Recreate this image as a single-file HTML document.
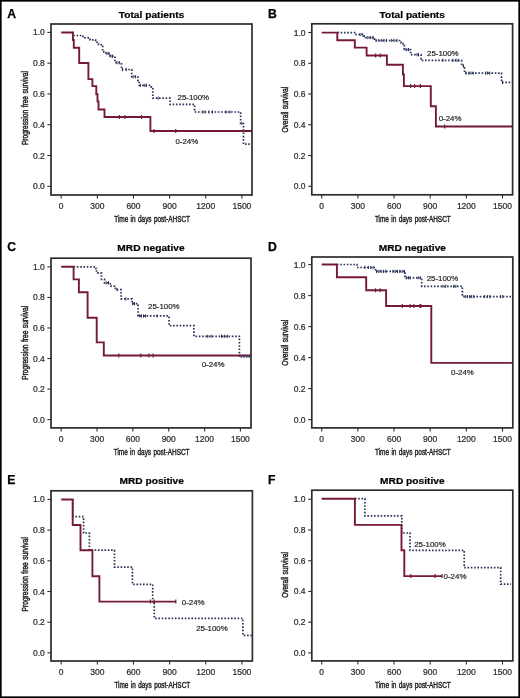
<!DOCTYPE html>
<html><head><meta charset="utf-8"><style>
html,body{margin:0;padding:0;background:#fff;}
body{width:520px;height:698px;overflow:hidden;font-family:"Liberation Sans",sans-serif;}
svg{display:block;will-change:transform;}
svg text{font-family:"Liberation Sans",sans-serif;}
</style></head><body>
<svg width="520" height="698" viewBox="0 0 520 698">
<rect x="0" y="0" width="520" height="698" fill="#fff"/>
<rect x="0.8" y="0.8" width="518.4" height="696.4" fill="none" stroke="#000" stroke-width="1.7"/>
<g><text x="7.3" y="17.5" font-family="Liberation Sans" font-weight="bold" font-size="12.2" fill="#000" stroke="#000" stroke-width="0.25">A</text><text transform="translate(151.50,17.7) scale(1.09,1)" text-anchor="middle" font-family="Liberation Sans" font-weight="bold" font-size="9.35" fill="#000" stroke="#000" stroke-width="0.2">Total patients</text><line x1="47.4" y1="186.30" x2="51" y2="186.30" stroke="#2c2c2c" stroke-width="1.1"/><text x="44.8" y="189.30" text-anchor="end" font-family="Liberation Sans" font-size="8.5" fill="#2a2a2a" stroke="#2a2a2a" stroke-width="0.22">0.0</text><line x1="47.4" y1="155.52" x2="51" y2="155.52" stroke="#2c2c2c" stroke-width="1.1"/><text x="44.8" y="158.52" text-anchor="end" font-family="Liberation Sans" font-size="8.5" fill="#2a2a2a" stroke="#2a2a2a" stroke-width="0.22">0.2</text><line x1="47.4" y1="124.74" x2="51" y2="124.74" stroke="#2c2c2c" stroke-width="1.1"/><text x="44.8" y="127.74" text-anchor="end" font-family="Liberation Sans" font-size="8.5" fill="#2a2a2a" stroke="#2a2a2a" stroke-width="0.22">0.4</text><line x1="47.4" y1="93.96" x2="51" y2="93.96" stroke="#2c2c2c" stroke-width="1.1"/><text x="44.8" y="96.96" text-anchor="end" font-family="Liberation Sans" font-size="8.5" fill="#2a2a2a" stroke="#2a2a2a" stroke-width="0.22">0.6</text><line x1="47.4" y1="63.18" x2="51" y2="63.18" stroke="#2c2c2c" stroke-width="1.1"/><text x="44.8" y="66.18" text-anchor="end" font-family="Liberation Sans" font-size="8.5" fill="#2a2a2a" stroke="#2a2a2a" stroke-width="0.22">0.8</text><line x1="47.4" y1="32.40" x2="51" y2="32.40" stroke="#2c2c2c" stroke-width="1.1"/><text x="44.8" y="35.40" text-anchor="end" font-family="Liberation Sans" font-size="8.5" fill="#2a2a2a" stroke="#2a2a2a" stroke-width="0.22">1.0</text><line x1="61.20" y1="195" x2="61.20" y2="198.6" stroke="#2c2c2c" stroke-width="1.1"/><text x="61.20" y="208.70" text-anchor="middle" font-family="Liberation Sans" font-size="8.5" fill="#2a2a2a" stroke="#2a2a2a" stroke-width="0.22">0</text><line x1="97.34" y1="195" x2="97.34" y2="198.6" stroke="#2c2c2c" stroke-width="1.1"/><text x="97.34" y="208.70" text-anchor="middle" font-family="Liberation Sans" font-size="8.5" fill="#2a2a2a" stroke="#2a2a2a" stroke-width="0.22">300</text><line x1="133.48" y1="195" x2="133.48" y2="198.6" stroke="#2c2c2c" stroke-width="1.1"/><text x="133.48" y="208.70" text-anchor="middle" font-family="Liberation Sans" font-size="8.5" fill="#2a2a2a" stroke="#2a2a2a" stroke-width="0.22">600</text><line x1="169.62" y1="195" x2="169.62" y2="198.6" stroke="#2c2c2c" stroke-width="1.1"/><text x="169.62" y="208.70" text-anchor="middle" font-family="Liberation Sans" font-size="8.5" fill="#2a2a2a" stroke="#2a2a2a" stroke-width="0.22">900</text><line x1="205.76" y1="195" x2="205.76" y2="198.6" stroke="#2c2c2c" stroke-width="1.1"/><text x="205.76" y="208.70" text-anchor="middle" font-family="Liberation Sans" font-size="8.5" fill="#2a2a2a" stroke="#2a2a2a" stroke-width="0.22">1200</text><line x1="241.90" y1="195" x2="241.90" y2="198.6" stroke="#2c2c2c" stroke-width="1.1"/><text x="241.90" y="208.70" text-anchor="middle" font-family="Liberation Sans" font-size="8.5" fill="#2a2a2a" stroke="#2a2a2a" stroke-width="0.22">1500</text><text transform="translate(152.10,222.40) scale(0.67,1)" text-anchor="middle" font-family="Liberation Sans" font-size="9.6" fill="#2a2a2a" stroke="#2a2a2a" stroke-width="0.5" word-spacing="0.9">Time in days post-AHSCT</text><text transform="translate(27.60,108.10) rotate(-90) scale(0.69,1)" text-anchor="middle" font-family="Liberation Sans" font-size="9.6" fill="#2a2a2a" stroke="#2a2a2a" stroke-width="0.5" word-spacing="0.9">Progression free survival</text><path d="M72.9,32.5H73V35.5H83V37.8H90V39.9H95.5V41.2H97V43H98.5V44.6H102.7V51.9H106.2V53.5H110V56.2H115V62.7H121.5V69.5H131.7V76.7H137.8V80.3H139.2V85.4H151V86.8H152.8V98.2H170V104.4H194.6V112H240.6V123.5H243.5V144.2H251V144.2" fill="none" stroke="#283258" stroke-width="1.7" stroke-dasharray="1.6 1.7"/><path d="M61.2,32.5H72.9V40H73.8V47.8H79.2V63H88.4V79.1H92.4V86.1H96.3V94.2H97.5V101.4H98.5V109.5H104.5V117H150.4V131H252V131" fill="none" stroke="#751a36" stroke-width="1.9"/><line x1="119.4" y1="115" x2="119.4" y2="119" stroke="#751a36" stroke-width="1.2"/><line x1="124.9" y1="115" x2="124.9" y2="119" stroke="#751a36" stroke-width="1.2"/><line x1="141.5" y1="115" x2="141.5" y2="119" stroke="#751a36" stroke-width="1.2"/><line x1="154" y1="129" x2="154" y2="133" stroke="#751a36" stroke-width="1.2"/><line x1="175.7" y1="129" x2="175.7" y2="133" stroke="#751a36" stroke-width="1.2"/><line x1="107" y1="51.9" x2="107" y2="55.1" stroke="#283258" stroke-width="1"/><line x1="109" y1="51.9" x2="109" y2="55.1" stroke="#283258" stroke-width="1"/><line x1="111" y1="54.6" x2="111" y2="57.800000000000004" stroke="#283258" stroke-width="1"/><line x1="112.5" y1="54.6" x2="112.5" y2="57.800000000000004" stroke="#283258" stroke-width="1"/><line x1="117" y1="61.1" x2="117" y2="64.3" stroke="#283258" stroke-width="1"/><line x1="119.2" y1="61.1" x2="119.2" y2="64.3" stroke="#283258" stroke-width="1"/><line x1="122.5" y1="67.9" x2="122.5" y2="71.1" stroke="#283258" stroke-width="1"/><line x1="126.2" y1="67.9" x2="126.2" y2="71.1" stroke="#283258" stroke-width="1"/><line x1="133.2" y1="75.10000000000001" x2="133.2" y2="78.3" stroke="#283258" stroke-width="1"/><line x1="135.6" y1="75.10000000000001" x2="135.6" y2="78.3" stroke="#283258" stroke-width="1"/><line x1="140.4" y1="83.80000000000001" x2="140.4" y2="87.0" stroke="#283258" stroke-width="1"/><line x1="144.2" y1="83.80000000000001" x2="144.2" y2="87.0" stroke="#283258" stroke-width="1"/><line x1="146.2" y1="83.80000000000001" x2="146.2" y2="87.0" stroke="#283258" stroke-width="1"/><line x1="158" y1="96.60000000000001" x2="158" y2="99.8" stroke="#283258" stroke-width="1"/><line x1="203" y1="110.4" x2="203" y2="113.6" stroke="#283258" stroke-width="1"/><line x1="205" y1="110.4" x2="205" y2="113.6" stroke="#283258" stroke-width="1"/><line x1="208.8" y1="110.4" x2="208.8" y2="113.6" stroke="#283258" stroke-width="1"/><line x1="212.5" y1="110.4" x2="212.5" y2="113.6" stroke="#283258" stroke-width="1"/><line x1="226.2" y1="110.4" x2="226.2" y2="113.6" stroke="#283258" stroke-width="1"/><line x1="230" y1="110.4" x2="230" y2="113.6" stroke="#283258" stroke-width="1"/><line x1="241.9" y1="121.9" x2="241.9" y2="125.1" stroke="#283258" stroke-width="1"/><text x="177.5" y="100" font-family="Liberation Sans" font-size="7.9" fill="#2a2a2a" stroke="#2a2a2a" stroke-width="0.22">25-100%</text><text x="175.4" y="143.8" font-family="Liberation Sans" font-size="7.9" fill="#2a2a2a" stroke="#2a2a2a" stroke-width="0.22">0-24%</text><rect x="51" y="24" width="201.00" height="171.00" fill="none" stroke="#2c2c2c" stroke-width="1.7"/></g>
<g><text x="268.0" y="17.5" font-family="Liberation Sans" font-weight="bold" font-size="12.2" fill="#000" stroke="#000" stroke-width="0.25">B</text><text transform="translate(412.20,17.6) scale(1.09,1)" text-anchor="middle" font-family="Liberation Sans" font-weight="bold" font-size="9.35" fill="#000" stroke="#000" stroke-width="0.2">Total patients</text><line x1="308.2" y1="186.30" x2="311.8" y2="186.30" stroke="#2c2c2c" stroke-width="1.1"/><text x="305.6" y="189.30" text-anchor="end" font-family="Liberation Sans" font-size="8.5" fill="#2a2a2a" stroke="#2a2a2a" stroke-width="0.22">0.0</text><line x1="308.2" y1="155.54" x2="311.8" y2="155.54" stroke="#2c2c2c" stroke-width="1.1"/><text x="305.6" y="158.54" text-anchor="end" font-family="Liberation Sans" font-size="8.5" fill="#2a2a2a" stroke="#2a2a2a" stroke-width="0.22">0.2</text><line x1="308.2" y1="124.78" x2="311.8" y2="124.78" stroke="#2c2c2c" stroke-width="1.1"/><text x="305.6" y="127.78" text-anchor="end" font-family="Liberation Sans" font-size="8.5" fill="#2a2a2a" stroke="#2a2a2a" stroke-width="0.22">0.4</text><line x1="308.2" y1="94.02" x2="311.8" y2="94.02" stroke="#2c2c2c" stroke-width="1.1"/><text x="305.6" y="97.02" text-anchor="end" font-family="Liberation Sans" font-size="8.5" fill="#2a2a2a" stroke="#2a2a2a" stroke-width="0.22">0.6</text><line x1="308.2" y1="63.26" x2="311.8" y2="63.26" stroke="#2c2c2c" stroke-width="1.1"/><text x="305.6" y="66.26" text-anchor="end" font-family="Liberation Sans" font-size="8.5" fill="#2a2a2a" stroke="#2a2a2a" stroke-width="0.22">0.8</text><line x1="308.2" y1="32.50" x2="311.8" y2="32.50" stroke="#2c2c2c" stroke-width="1.1"/><text x="305.6" y="35.50" text-anchor="end" font-family="Liberation Sans" font-size="8.5" fill="#2a2a2a" stroke="#2a2a2a" stroke-width="0.22">1.0</text><line x1="321.70" y1="194.8" x2="321.70" y2="198.4" stroke="#2c2c2c" stroke-width="1.1"/><text x="321.70" y="208.50" text-anchor="middle" font-family="Liberation Sans" font-size="8.5" fill="#2a2a2a" stroke="#2a2a2a" stroke-width="0.22">0</text><line x1="357.86" y1="194.8" x2="357.86" y2="198.4" stroke="#2c2c2c" stroke-width="1.1"/><text x="357.86" y="208.50" text-anchor="middle" font-family="Liberation Sans" font-size="8.5" fill="#2a2a2a" stroke="#2a2a2a" stroke-width="0.22">300</text><line x1="394.02" y1="194.8" x2="394.02" y2="198.4" stroke="#2c2c2c" stroke-width="1.1"/><text x="394.02" y="208.50" text-anchor="middle" font-family="Liberation Sans" font-size="8.5" fill="#2a2a2a" stroke="#2a2a2a" stroke-width="0.22">600</text><line x1="430.18" y1="194.8" x2="430.18" y2="198.4" stroke="#2c2c2c" stroke-width="1.1"/><text x="430.18" y="208.50" text-anchor="middle" font-family="Liberation Sans" font-size="8.5" fill="#2a2a2a" stroke="#2a2a2a" stroke-width="0.22">900</text><line x1="466.34" y1="194.8" x2="466.34" y2="198.4" stroke="#2c2c2c" stroke-width="1.1"/><text x="466.34" y="208.50" text-anchor="middle" font-family="Liberation Sans" font-size="8.5" fill="#2a2a2a" stroke="#2a2a2a" stroke-width="0.22">1200</text><line x1="502.50" y1="194.8" x2="502.50" y2="198.4" stroke="#2c2c2c" stroke-width="1.1"/><text x="502.50" y="208.50" text-anchor="middle" font-family="Liberation Sans" font-size="8.5" fill="#2a2a2a" stroke="#2a2a2a" stroke-width="0.22">1500</text><text transform="translate(412.80,222.20) scale(0.67,1)" text-anchor="middle" font-family="Liberation Sans" font-size="9.6" fill="#2a2a2a" stroke="#2a2a2a" stroke-width="0.5" word-spacing="0.9">Time in days post-AHSCT</text><text transform="translate(288.40,109.70) rotate(-90) scale(0.69,1)" text-anchor="middle" font-family="Liberation Sans" font-size="9.6" fill="#2a2a2a" stroke="#2a2a2a" stroke-width="0.5" word-spacing="0.9">Overall survival</text><path d="M337.3,32.6H356V34.5H363.5V36.2H365.5V37.6H374.5V40.5H401V42.7H403V44.6H404.3V49.6H410.6V54.7H421V60.4H461.6V65.8H464.5V73.1H501.5V82.4H512V82.4" fill="none" stroke="#283258" stroke-width="1.7" stroke-dasharray="1.6 1.7"/><path d="M321.7,32.6H337.3V40.2H354.8V47.6H366.6V55.5H386.9V64.8H402.9V74.5H403.9V86.1H430.8V106.2H435.9V126.5H512.6V126.5" fill="none" stroke="#751a36" stroke-width="1.9"/><line x1="375.6" y1="53.5" x2="375.6" y2="57.5" stroke="#751a36" stroke-width="1.2"/><line x1="380.4" y1="53.5" x2="380.4" y2="57.5" stroke="#751a36" stroke-width="1.2"/><line x1="410.7" y1="84.1" x2="410.7" y2="88.1" stroke="#751a36" stroke-width="1.2"/><line x1="414.6" y1="84.1" x2="414.6" y2="88.1" stroke="#751a36" stroke-width="1.2"/><line x1="420.4" y1="84.1" x2="420.4" y2="88.1" stroke="#751a36" stroke-width="1.2"/><line x1="444.6" y1="124.5" x2="444.6" y2="128.5" stroke="#751a36" stroke-width="1.2"/><line x1="360" y1="32.9" x2="360" y2="36.1" stroke="#283258" stroke-width="1"/><line x1="362" y1="32.9" x2="362" y2="36.1" stroke="#283258" stroke-width="1"/><line x1="367.8" y1="36.0" x2="367.8" y2="39.2" stroke="#283258" stroke-width="1"/><line x1="370.7" y1="36.0" x2="370.7" y2="39.2" stroke="#283258" stroke-width="1"/><line x1="373" y1="36.0" x2="373" y2="39.2" stroke="#283258" stroke-width="1"/><line x1="376" y1="38.9" x2="376" y2="42.1" stroke="#283258" stroke-width="1"/><line x1="378.8" y1="38.9" x2="378.8" y2="42.1" stroke="#283258" stroke-width="1"/><line x1="381.7" y1="38.9" x2="381.7" y2="42.1" stroke="#283258" stroke-width="1"/><line x1="384" y1="38.9" x2="384" y2="42.1" stroke="#283258" stroke-width="1"/><line x1="386.5" y1="38.9" x2="386.5" y2="42.1" stroke="#283258" stroke-width="1"/><line x1="391.3" y1="38.9" x2="391.3" y2="42.1" stroke="#283258" stroke-width="1"/><line x1="394.2" y1="38.9" x2="394.2" y2="42.1" stroke="#283258" stroke-width="1"/><line x1="397" y1="38.9" x2="397" y2="42.1" stroke="#283258" stroke-width="1"/><line x1="406" y1="48.0" x2="406" y2="51.2" stroke="#283258" stroke-width="1"/><line x1="408.5" y1="48.0" x2="408.5" y2="51.2" stroke="#283258" stroke-width="1"/><line x1="417" y1="53.1" x2="417" y2="56.300000000000004" stroke="#283258" stroke-width="1"/><line x1="418.5" y1="53.1" x2="418.5" y2="56.300000000000004" stroke="#283258" stroke-width="1"/><line x1="442.9" y1="58.8" x2="442.9" y2="62.0" stroke="#283258" stroke-width="1"/><line x1="453" y1="58.8" x2="453" y2="62.0" stroke="#283258" stroke-width="1"/><line x1="455.9" y1="58.8" x2="455.9" y2="62.0" stroke="#283258" stroke-width="1"/><line x1="458" y1="58.8" x2="458" y2="62.0" stroke="#283258" stroke-width="1"/><line x1="463.5" y1="64.2" x2="463.5" y2="67.39999999999999" stroke="#283258" stroke-width="1"/><line x1="466" y1="71.5" x2="466" y2="74.69999999999999" stroke="#283258" stroke-width="1"/><line x1="468.9" y1="71.5" x2="468.9" y2="74.69999999999999" stroke="#283258" stroke-width="1"/><line x1="471" y1="71.5" x2="471" y2="74.69999999999999" stroke="#283258" stroke-width="1"/><line x1="473.2" y1="71.5" x2="473.2" y2="74.69999999999999" stroke="#283258" stroke-width="1"/><line x1="485.5" y1="71.5" x2="485.5" y2="74.69999999999999" stroke="#283258" stroke-width="1"/><line x1="487.6" y1="71.5" x2="487.6" y2="74.69999999999999" stroke="#283258" stroke-width="1"/><line x1="489.8" y1="71.5" x2="489.8" y2="74.69999999999999" stroke="#283258" stroke-width="1"/><line x1="502.5" y1="80.80000000000001" x2="502.5" y2="84.0" stroke="#283258" stroke-width="1"/><text x="427.0" y="55.9" font-family="Liberation Sans" font-size="7.9" fill="#2a2a2a" stroke="#2a2a2a" stroke-width="0.22">25-100%</text><text x="438.7" y="121.2" font-family="Liberation Sans" font-size="7.9" fill="#2a2a2a" stroke="#2a2a2a" stroke-width="0.22">0-24%</text><rect x="311.8" y="23.8" width="200.80" height="171.00" fill="none" stroke="#2c2c2c" stroke-width="1.7"/></g>
<g><text x="7.3" y="250.7" font-family="Liberation Sans" font-weight="bold" font-size="12.2" fill="#000" stroke="#000" stroke-width="0.25">C</text><text transform="translate(151.00,250.9) scale(1.09,1)" text-anchor="middle" font-family="Liberation Sans" font-weight="bold" font-size="9.35" fill="#000" stroke="#000" stroke-width="0.2">MRD negative</text><line x1="47.4" y1="419.60" x2="51" y2="419.60" stroke="#2c2c2c" stroke-width="1.1"/><text x="44.8" y="422.60" text-anchor="end" font-family="Liberation Sans" font-size="8.5" fill="#2a2a2a" stroke="#2a2a2a" stroke-width="0.22">0.0</text><line x1="47.4" y1="389.06" x2="51" y2="389.06" stroke="#2c2c2c" stroke-width="1.1"/><text x="44.8" y="392.06" text-anchor="end" font-family="Liberation Sans" font-size="8.5" fill="#2a2a2a" stroke="#2a2a2a" stroke-width="0.22">0.2</text><line x1="47.4" y1="358.52" x2="51" y2="358.52" stroke="#2c2c2c" stroke-width="1.1"/><text x="44.8" y="361.52" text-anchor="end" font-family="Liberation Sans" font-size="8.5" fill="#2a2a2a" stroke="#2a2a2a" stroke-width="0.22">0.4</text><line x1="47.4" y1="327.98" x2="51" y2="327.98" stroke="#2c2c2c" stroke-width="1.1"/><text x="44.8" y="330.98" text-anchor="end" font-family="Liberation Sans" font-size="8.5" fill="#2a2a2a" stroke="#2a2a2a" stroke-width="0.22">0.6</text><line x1="47.4" y1="297.44" x2="51" y2="297.44" stroke="#2c2c2c" stroke-width="1.1"/><text x="44.8" y="300.44" text-anchor="end" font-family="Liberation Sans" font-size="8.5" fill="#2a2a2a" stroke="#2a2a2a" stroke-width="0.22">0.8</text><line x1="47.4" y1="266.90" x2="51" y2="266.90" stroke="#2c2c2c" stroke-width="1.1"/><text x="44.8" y="269.90" text-anchor="end" font-family="Liberation Sans" font-size="8.5" fill="#2a2a2a" stroke="#2a2a2a" stroke-width="0.22">1.0</text><line x1="61.20" y1="427.9" x2="61.20" y2="431.5" stroke="#2c2c2c" stroke-width="1.1"/><text x="61.20" y="441.60" text-anchor="middle" font-family="Liberation Sans" font-size="8.5" fill="#2a2a2a" stroke="#2a2a2a" stroke-width="0.22">0</text><line x1="97.04" y1="427.9" x2="97.04" y2="431.5" stroke="#2c2c2c" stroke-width="1.1"/><text x="97.04" y="441.60" text-anchor="middle" font-family="Liberation Sans" font-size="8.5" fill="#2a2a2a" stroke="#2a2a2a" stroke-width="0.22">300</text><line x1="132.88" y1="427.9" x2="132.88" y2="431.5" stroke="#2c2c2c" stroke-width="1.1"/><text x="132.88" y="441.60" text-anchor="middle" font-family="Liberation Sans" font-size="8.5" fill="#2a2a2a" stroke="#2a2a2a" stroke-width="0.22">600</text><line x1="168.72" y1="427.9" x2="168.72" y2="431.5" stroke="#2c2c2c" stroke-width="1.1"/><text x="168.72" y="441.60" text-anchor="middle" font-family="Liberation Sans" font-size="8.5" fill="#2a2a2a" stroke="#2a2a2a" stroke-width="0.22">900</text><line x1="204.56" y1="427.9" x2="204.56" y2="431.5" stroke="#2c2c2c" stroke-width="1.1"/><text x="204.56" y="441.60" text-anchor="middle" font-family="Liberation Sans" font-size="8.5" fill="#2a2a2a" stroke="#2a2a2a" stroke-width="0.22">1200</text><line x1="240.40" y1="427.9" x2="240.40" y2="431.5" stroke="#2c2c2c" stroke-width="1.1"/><text x="240.40" y="441.60" text-anchor="middle" font-family="Liberation Sans" font-size="8.5" fill="#2a2a2a" stroke="#2a2a2a" stroke-width="0.22">1500</text><text transform="translate(151.60,455.30) scale(0.67,1)" text-anchor="middle" font-family="Liberation Sans" font-size="9.6" fill="#2a2a2a" stroke="#2a2a2a" stroke-width="0.5" word-spacing="0.9">Time in days post-AHSCT</text><text transform="translate(27.60,342.75) rotate(-90) scale(0.69,1)" text-anchor="middle" font-family="Liberation Sans" font-size="9.6" fill="#2a2a2a" stroke="#2a2a2a" stroke-width="0.5" word-spacing="0.9">Progression free survival</text><path d="M73.6,266.8H95V268.5H96.5V271H98V273.2H101.5V279.3H104.5V282.8H110.3V286.2H115.5V289.7H121.1V298.9H132.1V303.6H138.1V315.9H169V325.7H193.9V336.3H239.4V356H251V356" fill="none" stroke="#283258" stroke-width="1.7" stroke-dasharray="1.6 1.7"/><path d="M61.2,266.8H73.6V279.4H78.9V292.3H87.6V317.8H96.7V342.4H103.8V355.5H251V355.5" fill="none" stroke="#751a36" stroke-width="1.9"/><line x1="118.8" y1="353.5" x2="118.8" y2="357.5" stroke="#751a36" stroke-width="1.2"/><line x1="140.8" y1="353.5" x2="140.8" y2="357.5" stroke="#751a36" stroke-width="1.2"/><line x1="148.9" y1="353.5" x2="148.9" y2="357.5" stroke="#751a36" stroke-width="1.2"/><line x1="153.1" y1="353.5" x2="153.1" y2="357.5" stroke="#751a36" stroke-width="1.2"/><line x1="106.2" y1="281.2" x2="106.2" y2="284.40000000000003" stroke="#283258" stroke-width="1"/><line x1="108.5" y1="281.2" x2="108.5" y2="284.40000000000003" stroke="#283258" stroke-width="1"/><line x1="117" y1="288.09999999999997" x2="117" y2="291.3" stroke="#283258" stroke-width="1"/><line x1="125.8" y1="297.29999999999995" x2="125.8" y2="300.5" stroke="#283258" stroke-width="1"/><line x1="132.7" y1="302.0" x2="132.7" y2="305.20000000000005" stroke="#283258" stroke-width="1"/><line x1="134.5" y1="302.0" x2="134.5" y2="305.20000000000005" stroke="#283258" stroke-width="1"/><line x1="139.4" y1="314.29999999999995" x2="139.4" y2="317.5" stroke="#283258" stroke-width="1"/><line x1="141.4" y1="314.29999999999995" x2="141.4" y2="317.5" stroke="#283258" stroke-width="1"/><line x1="143.5" y1="314.29999999999995" x2="143.5" y2="317.5" stroke="#283258" stroke-width="1"/><line x1="145.5" y1="314.29999999999995" x2="145.5" y2="317.5" stroke="#283258" stroke-width="1"/><line x1="156.9" y1="314.29999999999995" x2="156.9" y2="317.5" stroke="#283258" stroke-width="1"/><line x1="207.7" y1="334.7" x2="207.7" y2="337.90000000000003" stroke="#283258" stroke-width="1"/><line x1="211.1" y1="334.7" x2="211.1" y2="337.90000000000003" stroke="#283258" stroke-width="1"/><line x1="221.5" y1="334.7" x2="221.5" y2="337.90000000000003" stroke="#283258" stroke-width="1"/><line x1="224.4" y1="334.7" x2="224.4" y2="337.90000000000003" stroke="#283258" stroke-width="1"/><line x1="227.3" y1="334.7" x2="227.3" y2="337.90000000000003" stroke="#283258" stroke-width="1"/><line x1="241.1" y1="354.9" x2="241.1" y2="358.1" stroke="#283258" stroke-width="1"/><line x1="244" y1="354.9" x2="244" y2="358.1" stroke="#283258" stroke-width="1"/><line x1="246.9" y1="354.9" x2="246.9" y2="358.1" stroke="#283258" stroke-width="1"/><line x1="249.2" y1="354.9" x2="249.2" y2="358.1" stroke="#283258" stroke-width="1"/><text x="148" y="308.8" font-family="Liberation Sans" font-size="7.9" fill="#2a2a2a" stroke="#2a2a2a" stroke-width="0.22">25-100%</text><text x="201.7" y="366.5" font-family="Liberation Sans" font-size="7.9" fill="#2a2a2a" stroke="#2a2a2a" stroke-width="0.22">0-24%</text><rect x="51" y="258.2" width="200.00" height="169.70" fill="none" stroke="#2c2c2c" stroke-width="1.7"/></g>
<g><text x="268.0" y="250.7" font-family="Liberation Sans" font-weight="bold" font-size="12.2" fill="#000" stroke="#000" stroke-width="0.25">D</text><text transform="translate(412.30,250.8) scale(1.09,1)" text-anchor="middle" font-family="Liberation Sans" font-weight="bold" font-size="9.35" fill="#000" stroke="#000" stroke-width="0.2">MRD negative</text><line x1="308.2" y1="419.60" x2="311.8" y2="419.60" stroke="#2c2c2c" stroke-width="1.1"/><text x="305.6" y="422.60" text-anchor="end" font-family="Liberation Sans" font-size="8.5" fill="#2a2a2a" stroke="#2a2a2a" stroke-width="0.22">0.0</text><line x1="308.2" y1="388.60" x2="311.8" y2="388.60" stroke="#2c2c2c" stroke-width="1.1"/><text x="305.6" y="391.60" text-anchor="end" font-family="Liberation Sans" font-size="8.5" fill="#2a2a2a" stroke="#2a2a2a" stroke-width="0.22">0.2</text><line x1="308.2" y1="357.60" x2="311.8" y2="357.60" stroke="#2c2c2c" stroke-width="1.1"/><text x="305.6" y="360.60" text-anchor="end" font-family="Liberation Sans" font-size="8.5" fill="#2a2a2a" stroke="#2a2a2a" stroke-width="0.22">0.4</text><line x1="308.2" y1="326.60" x2="311.8" y2="326.60" stroke="#2c2c2c" stroke-width="1.1"/><text x="305.6" y="329.60" text-anchor="end" font-family="Liberation Sans" font-size="8.5" fill="#2a2a2a" stroke="#2a2a2a" stroke-width="0.22">0.6</text><line x1="308.2" y1="295.60" x2="311.8" y2="295.60" stroke="#2c2c2c" stroke-width="1.1"/><text x="305.6" y="298.60" text-anchor="end" font-family="Liberation Sans" font-size="8.5" fill="#2a2a2a" stroke="#2a2a2a" stroke-width="0.22">0.8</text><line x1="308.2" y1="264.60" x2="311.8" y2="264.60" stroke="#2c2c2c" stroke-width="1.1"/><text x="305.6" y="267.60" text-anchor="end" font-family="Liberation Sans" font-size="8.5" fill="#2a2a2a" stroke="#2a2a2a" stroke-width="0.22">1.0</text><line x1="321.70" y1="427.9" x2="321.70" y2="431.5" stroke="#2c2c2c" stroke-width="1.1"/><text x="321.70" y="441.60" text-anchor="middle" font-family="Liberation Sans" font-size="8.5" fill="#2a2a2a" stroke="#2a2a2a" stroke-width="0.22">0</text><line x1="357.86" y1="427.9" x2="357.86" y2="431.5" stroke="#2c2c2c" stroke-width="1.1"/><text x="357.86" y="441.60" text-anchor="middle" font-family="Liberation Sans" font-size="8.5" fill="#2a2a2a" stroke="#2a2a2a" stroke-width="0.22">300</text><line x1="394.02" y1="427.9" x2="394.02" y2="431.5" stroke="#2c2c2c" stroke-width="1.1"/><text x="394.02" y="441.60" text-anchor="middle" font-family="Liberation Sans" font-size="8.5" fill="#2a2a2a" stroke="#2a2a2a" stroke-width="0.22">600</text><line x1="430.18" y1="427.9" x2="430.18" y2="431.5" stroke="#2c2c2c" stroke-width="1.1"/><text x="430.18" y="441.60" text-anchor="middle" font-family="Liberation Sans" font-size="8.5" fill="#2a2a2a" stroke="#2a2a2a" stroke-width="0.22">900</text><line x1="466.34" y1="427.9" x2="466.34" y2="431.5" stroke="#2c2c2c" stroke-width="1.1"/><text x="466.34" y="441.60" text-anchor="middle" font-family="Liberation Sans" font-size="8.5" fill="#2a2a2a" stroke="#2a2a2a" stroke-width="0.22">1200</text><line x1="502.50" y1="427.9" x2="502.50" y2="431.5" stroke="#2c2c2c" stroke-width="1.1"/><text x="502.50" y="441.60" text-anchor="middle" font-family="Liberation Sans" font-size="8.5" fill="#2a2a2a" stroke="#2a2a2a" stroke-width="0.22">1500</text><text transform="translate(412.90,455.30) scale(0.67,1)" text-anchor="middle" font-family="Liberation Sans" font-size="9.6" fill="#2a2a2a" stroke="#2a2a2a" stroke-width="0.5" word-spacing="0.9">Time in days post-AHSCT</text><text transform="translate(288.40,342.75) rotate(-90) scale(0.69,1)" text-anchor="middle" font-family="Liberation Sans" font-size="9.6" fill="#2a2a2a" stroke="#2a2a2a" stroke-width="0.5" word-spacing="0.9">Overall survival</text><path d="M336.9,264.5H357V267.5H375.4V271.4H405V277.8H421.7V286.3H462.4V296.6H512V296.6" fill="none" stroke="#283258" stroke-width="1.7" stroke-dasharray="1.6 1.7"/><path d="M321.7,264.5H336.9V277.2H366.2V290.3H386.1V306H431.3V362.9H512.8V362.9" fill="none" stroke="#751a36" stroke-width="1.9"/><line x1="375.5" y1="288.3" x2="375.5" y2="292.3" stroke="#751a36" stroke-width="1.2"/><line x1="380.1" y1="288.3" x2="380.1" y2="292.3" stroke="#751a36" stroke-width="1.2"/><line x1="402.3" y1="304" x2="402.3" y2="308" stroke="#751a36" stroke-width="1.2"/><line x1="410.1" y1="304" x2="410.1" y2="308" stroke="#751a36" stroke-width="1.2"/><line x1="413.8" y1="304" x2="413.8" y2="308" stroke="#751a36" stroke-width="1.2"/><line x1="420" y1="304" x2="420" y2="308" stroke="#751a36" stroke-width="1.2"/><line x1="420.8" y1="304" x2="420.8" y2="308" stroke="#751a36" stroke-width="1.2"/><line x1="365" y1="265.9" x2="365" y2="269.1" stroke="#283258" stroke-width="1"/><line x1="368.4" y1="265.9" x2="368.4" y2="269.1" stroke="#283258" stroke-width="1"/><line x1="370.8" y1="265.9" x2="370.8" y2="269.1" stroke="#283258" stroke-width="1"/><line x1="373.1" y1="265.9" x2="373.1" y2="269.1" stroke="#283258" stroke-width="1"/><line x1="376.5" y1="269.79999999999995" x2="376.5" y2="273.0" stroke="#283258" stroke-width="1"/><line x1="378.8" y1="269.79999999999995" x2="378.8" y2="273.0" stroke="#283258" stroke-width="1"/><line x1="381.1" y1="269.79999999999995" x2="381.1" y2="273.0" stroke="#283258" stroke-width="1"/><line x1="383.4" y1="269.79999999999995" x2="383.4" y2="273.0" stroke="#283258" stroke-width="1"/><line x1="385.7" y1="269.79999999999995" x2="385.7" y2="273.0" stroke="#283258" stroke-width="1"/><line x1="392.9" y1="269.79999999999995" x2="392.9" y2="273.0" stroke="#283258" stroke-width="1"/><line x1="395.2" y1="269.79999999999995" x2="395.2" y2="273.0" stroke="#283258" stroke-width="1"/><line x1="397.5" y1="269.79999999999995" x2="397.5" y2="273.0" stroke="#283258" stroke-width="1"/><line x1="399.8" y1="269.79999999999995" x2="399.8" y2="273.0" stroke="#283258" stroke-width="1"/><line x1="402.1" y1="269.79999999999995" x2="402.1" y2="273.0" stroke="#283258" stroke-width="1"/><line x1="404.4" y1="269.79999999999995" x2="404.4" y2="273.0" stroke="#283258" stroke-width="1"/><line x1="406.2" y1="276.2" x2="406.2" y2="279.40000000000003" stroke="#283258" stroke-width="1"/><line x1="408.5" y1="276.2" x2="408.5" y2="279.40000000000003" stroke="#283258" stroke-width="1"/><line x1="410.2" y1="276.2" x2="410.2" y2="279.40000000000003" stroke="#283258" stroke-width="1"/><line x1="418.3" y1="276.2" x2="418.3" y2="279.40000000000003" stroke="#283258" stroke-width="1"/><line x1="420.6" y1="276.2" x2="420.6" y2="279.40000000000003" stroke="#283258" stroke-width="1"/><line x1="442.9" y1="284.7" x2="442.9" y2="287.90000000000003" stroke="#283258" stroke-width="1"/><line x1="445.8" y1="284.7" x2="445.8" y2="287.90000000000003" stroke="#283258" stroke-width="1"/><line x1="453.7" y1="284.7" x2="453.7" y2="287.90000000000003" stroke="#283258" stroke-width="1"/><line x1="455.9" y1="284.7" x2="455.9" y2="287.90000000000003" stroke="#283258" stroke-width="1"/><line x1="465.3" y1="295.0" x2="465.3" y2="298.20000000000005" stroke="#283258" stroke-width="1"/><line x1="467.4" y1="295.0" x2="467.4" y2="298.20000000000005" stroke="#283258" stroke-width="1"/><line x1="469.6" y1="295.0" x2="469.6" y2="298.20000000000005" stroke="#283258" stroke-width="1"/><line x1="471.7" y1="295.0" x2="471.7" y2="298.20000000000005" stroke="#283258" stroke-width="1"/><line x1="473.9" y1="295.0" x2="473.9" y2="298.20000000000005" stroke="#283258" stroke-width="1"/><line x1="484.7" y1="295.0" x2="484.7" y2="298.20000000000005" stroke="#283258" stroke-width="1"/><line x1="487.6" y1="295.0" x2="487.6" y2="298.20000000000005" stroke="#283258" stroke-width="1"/><line x1="489.8" y1="295.0" x2="489.8" y2="298.20000000000005" stroke="#283258" stroke-width="1"/><line x1="500.6" y1="295.0" x2="500.6" y2="298.20000000000005" stroke="#283258" stroke-width="1"/><line x1="502.8" y1="295.0" x2="502.8" y2="298.20000000000005" stroke="#283258" stroke-width="1"/><text x="426.7" y="280.8" font-family="Liberation Sans" font-size="7.9" fill="#2a2a2a" stroke="#2a2a2a" stroke-width="0.22">25-100%</text><text x="451.0" y="374.8" font-family="Liberation Sans" font-size="7.9" fill="#2a2a2a" stroke="#2a2a2a" stroke-width="0.22">0-24%</text><rect x="311.8" y="257" width="201.00" height="170.90" fill="none" stroke="#2c2c2c" stroke-width="1.7"/></g>
<g><text x="7.3" y="483.7" font-family="Liberation Sans" font-weight="bold" font-size="12.2" fill="#000" stroke="#000" stroke-width="0.25">E</text><text transform="translate(151.70,484.0) scale(1.09,1)" text-anchor="middle" font-family="Liberation Sans" font-weight="bold" font-size="9.35" fill="#000" stroke="#000" stroke-width="0.2">MRD positive</text><line x1="47.4" y1="652.90" x2="51" y2="652.90" stroke="#2c2c2c" stroke-width="1.1"/><text x="44.8" y="655.90" text-anchor="end" font-family="Liberation Sans" font-size="8.5" fill="#2a2a2a" stroke="#2a2a2a" stroke-width="0.22">0.0</text><line x1="47.4" y1="622.20" x2="51" y2="622.20" stroke="#2c2c2c" stroke-width="1.1"/><text x="44.8" y="625.20" text-anchor="end" font-family="Liberation Sans" font-size="8.5" fill="#2a2a2a" stroke="#2a2a2a" stroke-width="0.22">0.2</text><line x1="47.4" y1="591.50" x2="51" y2="591.50" stroke="#2c2c2c" stroke-width="1.1"/><text x="44.8" y="594.50" text-anchor="end" font-family="Liberation Sans" font-size="8.5" fill="#2a2a2a" stroke="#2a2a2a" stroke-width="0.22">0.4</text><line x1="47.4" y1="560.80" x2="51" y2="560.80" stroke="#2c2c2c" stroke-width="1.1"/><text x="44.8" y="563.80" text-anchor="end" font-family="Liberation Sans" font-size="8.5" fill="#2a2a2a" stroke="#2a2a2a" stroke-width="0.22">0.6</text><line x1="47.4" y1="530.10" x2="51" y2="530.10" stroke="#2c2c2c" stroke-width="1.1"/><text x="44.8" y="533.10" text-anchor="end" font-family="Liberation Sans" font-size="8.5" fill="#2a2a2a" stroke="#2a2a2a" stroke-width="0.22">0.8</text><line x1="47.4" y1="499.40" x2="51" y2="499.40" stroke="#2c2c2c" stroke-width="1.1"/><text x="44.8" y="502.40" text-anchor="end" font-family="Liberation Sans" font-size="8.5" fill="#2a2a2a" stroke="#2a2a2a" stroke-width="0.22">1.0</text><line x1="61.20" y1="661" x2="61.20" y2="664.6" stroke="#2c2c2c" stroke-width="1.1"/><text x="61.20" y="674.70" text-anchor="middle" font-family="Liberation Sans" font-size="8.5" fill="#2a2a2a" stroke="#2a2a2a" stroke-width="0.22">0</text><line x1="97.34" y1="661" x2="97.34" y2="664.6" stroke="#2c2c2c" stroke-width="1.1"/><text x="97.34" y="674.70" text-anchor="middle" font-family="Liberation Sans" font-size="8.5" fill="#2a2a2a" stroke="#2a2a2a" stroke-width="0.22">300</text><line x1="133.48" y1="661" x2="133.48" y2="664.6" stroke="#2c2c2c" stroke-width="1.1"/><text x="133.48" y="674.70" text-anchor="middle" font-family="Liberation Sans" font-size="8.5" fill="#2a2a2a" stroke="#2a2a2a" stroke-width="0.22">600</text><line x1="169.62" y1="661" x2="169.62" y2="664.6" stroke="#2c2c2c" stroke-width="1.1"/><text x="169.62" y="674.70" text-anchor="middle" font-family="Liberation Sans" font-size="8.5" fill="#2a2a2a" stroke="#2a2a2a" stroke-width="0.22">900</text><line x1="205.76" y1="661" x2="205.76" y2="664.6" stroke="#2c2c2c" stroke-width="1.1"/><text x="205.76" y="674.70" text-anchor="middle" font-family="Liberation Sans" font-size="8.5" fill="#2a2a2a" stroke="#2a2a2a" stroke-width="0.22">1200</text><line x1="241.90" y1="661" x2="241.90" y2="664.6" stroke="#2c2c2c" stroke-width="1.1"/><text x="241.90" y="674.70" text-anchor="middle" font-family="Liberation Sans" font-size="8.5" fill="#2a2a2a" stroke="#2a2a2a" stroke-width="0.22">1500</text><text transform="translate(152.30,688.40) scale(0.67,1)" text-anchor="middle" font-family="Liberation Sans" font-size="9.6" fill="#2a2a2a" stroke="#2a2a2a" stroke-width="0.5" word-spacing="0.9">Time in days post-AHSCT</text><text transform="translate(27.60,574.40) rotate(-90) scale(0.69,1)" text-anchor="middle" font-family="Liberation Sans" font-size="9.6" fill="#2a2a2a" stroke="#2a2a2a" stroke-width="0.5" word-spacing="0.9">Progression free survival</text><path d="M72.7,499.5H72.7V516.6H83.6V533H89.4V550.2H114.5V567.1H132.4V584.3H152.7V601.6H154.2V618.4H242.9V635.3H251.7V635.3" fill="none" stroke="#283258" stroke-width="1.7" stroke-dasharray="1.6 1.7"/><path d="M61.2,499.5H72.7V525H80.5V550.2H92.4V576.2H99.4V601.6H176V601.6" fill="none" stroke="#751a36" stroke-width="1.9"/><line x1="150.4" y1="599.6" x2="150.4" y2="603.6" stroke="#751a36" stroke-width="1.2"/><line x1="154.2" y1="599.6" x2="154.2" y2="603.6" stroke="#751a36" stroke-width="1.2"/><line x1="175.8" y1="599.6" x2="175.8" y2="603.6" stroke="#751a36" stroke-width="1.2"/><text x="181.8" y="605" font-family="Liberation Sans" font-size="7.9" fill="#2a2a2a" stroke="#2a2a2a" stroke-width="0.22">0-24%</text><text x="196.2" y="630.8" font-family="Liberation Sans" font-size="7.9" fill="#2a2a2a" stroke="#2a2a2a" stroke-width="0.22">25-100%</text><rect x="51" y="490.8" width="201.40" height="170.20" fill="none" stroke="#2c2c2c" stroke-width="1.7"/></g>
<g><text x="268.0" y="483.7" font-family="Liberation Sans" font-weight="bold" font-size="12.2" fill="#000" stroke="#000" stroke-width="0.25">F</text><text transform="translate(412.30,483.8) scale(1.09,1)" text-anchor="middle" font-family="Liberation Sans" font-weight="bold" font-size="9.35" fill="#000" stroke="#000" stroke-width="0.2">MRD positive</text><line x1="308.2" y1="652.90" x2="311.8" y2="652.90" stroke="#2c2c2c" stroke-width="1.1"/><text x="305.6" y="655.90" text-anchor="end" font-family="Liberation Sans" font-size="8.5" fill="#2a2a2a" stroke="#2a2a2a" stroke-width="0.22">0.0</text><line x1="308.2" y1="622.18" x2="311.8" y2="622.18" stroke="#2c2c2c" stroke-width="1.1"/><text x="305.6" y="625.18" text-anchor="end" font-family="Liberation Sans" font-size="8.5" fill="#2a2a2a" stroke="#2a2a2a" stroke-width="0.22">0.2</text><line x1="308.2" y1="591.46" x2="311.8" y2="591.46" stroke="#2c2c2c" stroke-width="1.1"/><text x="305.6" y="594.46" text-anchor="end" font-family="Liberation Sans" font-size="8.5" fill="#2a2a2a" stroke="#2a2a2a" stroke-width="0.22">0.4</text><line x1="308.2" y1="560.74" x2="311.8" y2="560.74" stroke="#2c2c2c" stroke-width="1.1"/><text x="305.6" y="563.74" text-anchor="end" font-family="Liberation Sans" font-size="8.5" fill="#2a2a2a" stroke="#2a2a2a" stroke-width="0.22">0.6</text><line x1="308.2" y1="530.02" x2="311.8" y2="530.02" stroke="#2c2c2c" stroke-width="1.1"/><text x="305.6" y="533.02" text-anchor="end" font-family="Liberation Sans" font-size="8.5" fill="#2a2a2a" stroke="#2a2a2a" stroke-width="0.22">0.8</text><line x1="308.2" y1="499.30" x2="311.8" y2="499.30" stroke="#2c2c2c" stroke-width="1.1"/><text x="305.6" y="502.30" text-anchor="end" font-family="Liberation Sans" font-size="8.5" fill="#2a2a2a" stroke="#2a2a2a" stroke-width="0.22">1.0</text><line x1="321.70" y1="660.9" x2="321.70" y2="664.5" stroke="#2c2c2c" stroke-width="1.1"/><text x="321.70" y="674.60" text-anchor="middle" font-family="Liberation Sans" font-size="8.5" fill="#2a2a2a" stroke="#2a2a2a" stroke-width="0.22">0</text><line x1="357.86" y1="660.9" x2="357.86" y2="664.5" stroke="#2c2c2c" stroke-width="1.1"/><text x="357.86" y="674.60" text-anchor="middle" font-family="Liberation Sans" font-size="8.5" fill="#2a2a2a" stroke="#2a2a2a" stroke-width="0.22">300</text><line x1="394.02" y1="660.9" x2="394.02" y2="664.5" stroke="#2c2c2c" stroke-width="1.1"/><text x="394.02" y="674.60" text-anchor="middle" font-family="Liberation Sans" font-size="8.5" fill="#2a2a2a" stroke="#2a2a2a" stroke-width="0.22">600</text><line x1="430.18" y1="660.9" x2="430.18" y2="664.5" stroke="#2c2c2c" stroke-width="1.1"/><text x="430.18" y="674.60" text-anchor="middle" font-family="Liberation Sans" font-size="8.5" fill="#2a2a2a" stroke="#2a2a2a" stroke-width="0.22">900</text><line x1="466.34" y1="660.9" x2="466.34" y2="664.5" stroke="#2c2c2c" stroke-width="1.1"/><text x="466.34" y="674.60" text-anchor="middle" font-family="Liberation Sans" font-size="8.5" fill="#2a2a2a" stroke="#2a2a2a" stroke-width="0.22">1200</text><line x1="502.50" y1="660.9" x2="502.50" y2="664.5" stroke="#2c2c2c" stroke-width="1.1"/><text x="502.50" y="674.60" text-anchor="middle" font-family="Liberation Sans" font-size="8.5" fill="#2a2a2a" stroke="#2a2a2a" stroke-width="0.22">1500</text><text transform="translate(412.90,688.30) scale(0.67,1)" text-anchor="middle" font-family="Liberation Sans" font-size="9.6" fill="#2a2a2a" stroke="#2a2a2a" stroke-width="0.5" word-spacing="0.9">Time in days post-AHSCT</text><text transform="translate(288.40,574.95) rotate(-90) scale(0.69,1)" text-anchor="middle" font-family="Liberation Sans" font-size="9.6" fill="#2a2a2a" stroke="#2a2a2a" stroke-width="0.5" word-spacing="0.9">Overall survival</text><path d="M354.9,498.7H364.9V515.9H401.8V533H410V550.3H464.2V567.6H500.7V584.2H511V584.2" fill="none" stroke="#283258" stroke-width="1.7" stroke-dasharray="1.6 1.7"/><path d="M321.7,498.7H354.9V524.9H401.5V550.3H404.3V576.1H442V576.1" fill="none" stroke="#751a36" stroke-width="1.9"/><line x1="410.8" y1="574.1" x2="410.8" y2="578.1" stroke="#751a36" stroke-width="1.2"/><line x1="435" y1="574.1" x2="435" y2="578.1" stroke="#751a36" stroke-width="1.2"/><line x1="442" y1="574.1" x2="442" y2="578.1" stroke="#751a36" stroke-width="1.2"/><text x="414.2" y="547.3" font-family="Liberation Sans" font-size="7.9" fill="#2a2a2a" stroke="#2a2a2a" stroke-width="0.22">25-100%</text><text x="443.6" y="579.1" font-family="Liberation Sans" font-size="7.9" fill="#2a2a2a" stroke="#2a2a2a" stroke-width="0.22">0-24%</text><rect x="311.8" y="490.2" width="201.00" height="170.70" fill="none" stroke="#2c2c2c" stroke-width="1.7"/></g>
</svg>
</body></html>
